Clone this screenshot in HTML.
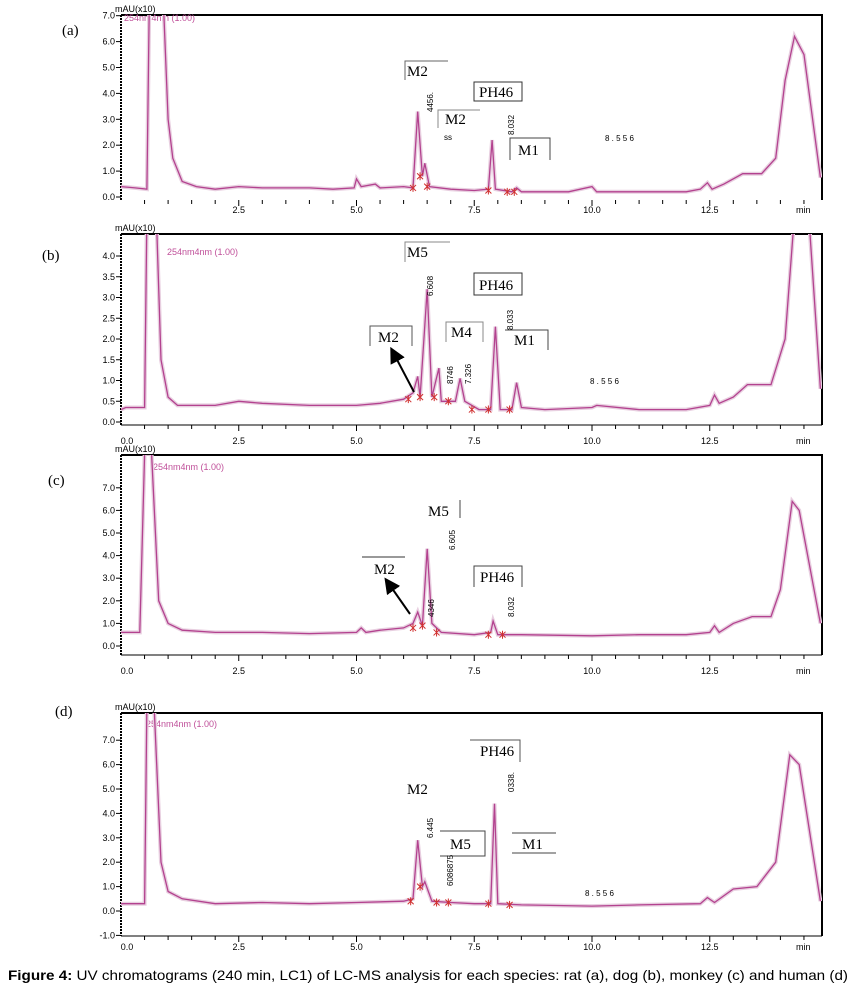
<!DOCTYPE html>
<html><head><meta charset="utf-8">
<style>
html,body{margin:0;padding:0;background:#fff;}
svg{display:block;}
.ser{font-family:"Liberation Serif",serif;font-size:15px;fill:#000;}
.tk{font-family:"Liberation Sans",sans-serif;font-size:9px;fill:#000;}
.pk{font-family:"Liberation Sans",sans-serif;font-size:8px;fill:#000;}
.pink{font-family:"Liberation Sans",sans-serif;font-size:9px;fill:#c0509a;}
</style></head>
<body>
<svg id="fig" width="852" height="991" viewBox="0 0 852 991" xmlns="http://www.w3.org/2000/svg">
<defs>
<marker id="ah" markerWidth="8" markerHeight="8" refX="4" refY="4" orient="auto"><path d="M0,0 L8,4 L0,8 z" fill="#000"/></marker>
</defs>
<g id="panels"></g>
<!-- annotations -->
<g>
<text class="ser" x="62" y="35" font-size="17">(a)</text>
<path d="M405,80 V61 H448" fill="none" stroke="#666" stroke-width="1"/><text class="ser" x="407" y="76">M2</text>
<rect x="474" y="82" width="48" height="19" fill="none" stroke="#333" stroke-width="1"/><text class="ser" x="479" y="97">PH46</text>
<path d="M438,128 V110 H480" fill="none" stroke="#888" stroke-width="1"/><text class="ser" x="445" y="124">M2</text>
<path d="M510,160 V138 H550 V160" fill="none" stroke="#444" stroke-width="1"/><text class="ser" x="518" y="155">M1</text>
<text class="pk" transform="translate(433,112) rotate(-90)">4456.</text>
<text class="pk" x="444" y="140">ss</text>
<text class="pk" transform="translate(514,135) rotate(-90)">8.032</text>
<text class="pk" x="605" y="141">8 . 5 5 6</text>
</g>
<g>
<text class="ser" x="42" y="260" font-size="17">(b)</text>
<path d="M405,262 V242 H450" fill="none" stroke="#888" stroke-width="1"/><text class="ser" x="407" y="257">M5</text>
<rect x="474" y="273" width="48" height="22" fill="none" stroke="#333" stroke-width="1"/><text class="ser" x="479" y="290">PH46</text>
<path d="M370,346 V326 H412 V346" fill="none" stroke="#555" stroke-width="1"/><text class="ser" x="378" y="342">M2</text>
<path d="M446,342 V322 H483 V342" fill="none" stroke="#888" stroke-width="1"/><text class="ser" x="451" y="337">M4</text>
<path d="M505,330 H548 V350" fill="none" stroke="#444" stroke-width="1"/><text class="ser" x="514" y="345">M1</text>
<line x1="414" y1="392" x2="394" y2="354" stroke="#000" stroke-width="2" marker-end="url(#ah)"/>
<text class="pk" transform="translate(433,296) rotate(-90)">6.608</text>
<text class="pk" transform="translate(453,384) rotate(-90)">8746</text>
<text class="pk" transform="translate(471,384) rotate(-90)">7.326</text>
<text class="pk" transform="translate(513,330) rotate(-90)">8.033</text>
<text class="pk" x="590" y="384">8  . 5 5 6</text>
</g>
<g>
<text class="ser" x="48" y="485" font-size="17">(c)</text>
<text class="ser" x="428" y="516">M5</text><line x1="460" y1="500" x2="460" y2="518" stroke="#444"/>
<line x1="362" y1="557" x2="405" y2="557" stroke="#999" stroke-width="2"/><text class="ser" x="374" y="574">M2</text>
<path d="M474,587 V566 H522 V587" fill="none" stroke="#444" stroke-width="1"/><text class="ser" x="480" y="582">PH46</text>
<line x1="410" y1="614" x2="389" y2="584" stroke="#000" stroke-width="2" marker-end="url(#ah)"/>
<text class="pk" transform="translate(455,550) rotate(-90)">6.605</text>
<text class="pk" transform="translate(434,617) rotate(-90)">4346</text>
<text class="pk" transform="translate(514,617) rotate(-90)">8.032</text>
</g>
<g>
<text class="ser" x="55" y="716" font-size="17">(d)</text>
<path d="M470,740 H520 V762" fill="none" stroke="#555" stroke-width="1"/><text class="ser" x="480" y="756">PH46</text>
<text class="ser" x="407" y="794">M2</text>
<path d="M440,831 H485 V856 H440" fill="none" stroke="#444" stroke-width="1"/><text class="ser" x="450" y="849">M5</text>
<path d="M512,833 H556 M512,853 H556" fill="none" stroke="#444" stroke-width="1"/><text class="ser" x="522" y="849">M1</text>
<text class="pk" transform="translate(514,792) rotate(-90)">0338.</text>
<text class="pk" transform="translate(433,838) rotate(-90)">6.445</text>
<text class="pk" transform="translate(453,886) rotate(-90)">6086875</text>
<text class="pk" x="585" y="896">8  . 5 5 6</text>
</g>
<text x="8" y="980" font-family="Liberation Sans, sans-serif" font-size="14" textLength="840" lengthAdjust="spacingAndGlyphs"><tspan font-weight="bold">Figure 4:</tspan> UV chromatograms (240 min, LC1) of LC-MS analysis for each species: rat (a), dog (b), monkey (c) and human (d)</text>
</svg>
<script>
// ---- data (time in min, absorbance mAU x10) ----
const timesA  = [0,0.3,0.55,0.6,0.9,1.0,1.1,1.3,1.6,2.0,2.5,3.0,4.0,4.5,4.95,5.0,5.1,5.4,5.5,6.0,6.2,6.3,6.4,6.45,6.55,7.0,7.5,7.8,7.88,7.95,8.3,8.4,8.5,9.5,10.0,10.1,11.0,12.0,12.3,12.45,12.55,12.8,13.2,13.6,13.9,14.1,14.3,14.5,14.85];
const valuesA = [0.4,0.35,0.3,7.5,7.5,3.0,1.5,0.6,0.4,0.3,0.4,0.35,0.35,0.3,0.35,0.7,0.4,0.5,0.35,0.4,0.35,3.3,0.8,1.3,0.4,0.3,0.25,0.3,2.2,0.3,0.2,0.35,0.2,0.2,0.4,0.2,0.2,0.2,0.3,0.55,0.3,0.5,0.9,0.9,1.5,4.5,6.2,5.5,0.75];
const timesB  = [0,0.1,0.5,0.55,0.75,0.85,1.0,1.2,2.0,2.5,3.0,4.0,5.0,5.5,6.0,6.2,6.3,6.35,6.5,6.6,6.75,6.8,7.1,7.2,7.3,7.6,7.85,7.95,8.05,8.3,8.4,8.5,9.0,10.0,10.1,11.0,12.0,12.5,12.6,12.7,13.0,13.3,13.8,14.1,14.3,14.6,14.85];
const valuesB = [0.3,0.35,0.35,5,5,1.5,0.6,0.4,0.4,0.5,0.45,0.4,0.4,0.45,0.55,0.7,1.1,0.6,3.2,0.6,1.3,0.5,0.5,1.05,0.5,0.3,0.3,2.3,0.3,0.3,0.95,0.35,0.3,0.35,0.4,0.3,0.3,0.4,0.65,0.45,0.6,0.9,0.9,2.0,5.0,5.0,0.8];
const timesC  = [0,0.4,0.5,0.65,0.8,1.0,1.3,2.0,3.0,4.0,5.0,5.1,5.2,5.5,6.0,6.2,6.3,6.4,6.5,6.6,6.8,7.5,7.85,7.9,8.0,8.5,10.0,11.0,12.0,12.5,12.6,12.7,13.0,13.4,13.8,14.0,14.25,14.4,14.85];
const valuesC = [0.6,0.6,8.5,8.5,2.0,1.0,0.7,0.6,0.6,0.55,0.6,0.8,0.6,0.7,0.8,1.0,1.5,0.9,4.3,1.0,0.6,0.5,0.6,1.1,0.5,0.5,0.45,0.5,0.5,0.6,0.9,0.6,1.0,1.3,1.3,2.5,6.4,6.0,1.0];
const timesD  = [0,0.5,0.55,0.7,0.85,1.0,1.3,2.0,3.0,4.0,5.0,6.0,6.2,6.3,6.4,6.45,6.6,7.0,7.5,7.85,7.93,8.0,8.5,10.0,11.0,12.3,12.45,12.6,13.0,13.5,13.9,14.2,14.4,14.85];
const valuesD = [0.3,0.3,8.5,8.5,2.0,0.8,0.5,0.3,0.35,0.3,0.35,0.4,0.5,2.9,1.0,1.2,0.4,0.35,0.3,0.3,4.4,0.3,0.25,0.2,0.25,0.3,0.55,0.35,0.9,1.0,2.0,6.4,6.0,0.4];
const marksA = [6.2,6.35,6.5,7.8,8.2,8.35];
const marksB = [6.1,6.35,6.65,6.95,7.45,7.8,8.25];
const marksC = [6.2,6.4,6.7,7.8,8.1];
const marksD = [6.15,6.35,6.7,6.95,7.8,8.25];
const tickLabelsX = ["0.0","2.5","5.0","7.5","10.0","12.5"];
const tickValuesX = [0,2.5,5,7.5,10,12.5];
const yTicksA = [0,1,2,3,4,5,6,7];
const yTicksB = [0,0.5,1,1.5,2,2.5,3,3.5,4];
const yTicksC = [0,1,2,3,4,5,6,7];
const yTicksD = [-1,0,1,2,3,4,5,6,7];

const NS = "http://www.w3.org/2000/svg";
const root = document.getElementById('panels');
function mk(tag, attrs, parent){ const e=document.createElementNS(NS,tag); for(const k in attrs) e.setAttribute(k,attrs[k]); (parent||root).appendChild(e); return e; }
const X0=121, PXMIN=47.1, XR=822;
function xs(t){ return X0 + t*PXMIN; }

const panels = [
 {id:'a', top:15, bottom:200, y0:197, k:25.9, times:timesA, vals:valuesA, ticks:yTicksA, marks:marksA, lblY:213, zero:false, axisLine:false},
 {id:'b', top:234, bottom:425, y0:422, k:41.5, times:timesB, vals:valuesB, ticks:yTicksB, marks:marksB, lblY:444, zero:true, axisLine:true},
 {id:'c', top:455, bottom:655, y0:646, k:22.6, times:timesC, vals:valuesC, ticks:yTicksC, marks:marksC, lblY:674, zero:true, axisLine:true},
 {id:'d', top:713, bottom:936, y0:911, k:24.4, times:timesD, vals:valuesD, ticks:yTicksD, marks:marksD, lblY:950, zero:true, axisLine:true}
];

panels.forEach(p=>{
  const g = mk('g',{});
  
  
  const ys = v => p.y0 - v*p.k;
  const cp = mk('clipPath',{id:'clip'+p.id}, g);
  mk('rect',{x:X0,y:p.top,width:XR-X0,height:p.bottom-p.top},cp);
  // frame
  const fr = mk('path',{d:`M${X0},${p.top} H${XR} V${p.bottom}`,fill:'none',stroke:'#000','stroke-width':2},g);
  
  
  const ya = mk('line',{x1:X0,y1:p.top,x2:X0,y2:p.bottom,stroke:'#000','stroke-width':2,'stroke-dasharray':'2,1'},g);
  
  
  if(p.axisLine){ const xa=mk('line',{x1:X0,y1:p.bottom,x2:XR,y2:p.bottom,stroke:'#000','stroke-width':1},g);
    
     }
  // y ticks
  p.ticks.forEach(v=>{
    const y=ys(v);
    mk('line',{x1:X0-5,y1:y,x2:X0,y2:y,stroke:'#000','stroke-width':1},g);
    const t=mk('text',{x:X0-6,y:y+3,'text-anchor':'end',class:'tk'},g);
    t.textContent=v.toFixed(1);
    
    
  });
  // x minor ticks
  for(let i=1;i<=29;i++){ const x=xs(i*0.5); const big=(i%5===0); mk('line',{x1:x,y1:p.bottom,x2:x,y2:p.bottom+(big?6:4),stroke:'#000','stroke-width':1},g); }
  tickLabelsX.forEach((s,i)=>{
    if(i===0 && !p.zero) return;
    const t=mk('text',{x:xs(tickValuesX[i])+(i===0?6:0),y:p.lblY,'text-anchor':'middle',class:'tk'},g);
    t.textContent=s;
    
    
  });
  const mn=mk('text',{x:796,y:p.lblY,class:'tk'},g); mn.textContent='min';
  
  
  const un=mk('text',{x:X0-6,y:p.top-3,class:'tk'},g); un.textContent='mAU(x10)';
  
  
  const wl=mk('text',{x:p.id==='b'?167:(p.id==='c'?153:(p.id==='d'?146:124)),y:p.id==='b'?255:(p.id==='c'?470:(p.id==='d'?727:21)),class:'pink'},g);
  wl.textContent='254nm4nm (1.00)';
  
  
  // trace
  let d='';
  p.times.forEach((t,i)=>{ d+=(i?'L':'M')+xs(t).toFixed(1)+','+ys(p.vals[i]).toFixed(1); });
  const halo=mk('path',{d:d,fill:'none',stroke:'#e8cfe0','stroke-width':4,'clip-path':`url(#clip${p.id})`},g);
  
  
  const line=mk('path',{d:d,fill:'none',stroke:'#b3428f','stroke-width':1.3,'clip-path':`url(#clip${p.id})`},g);
  
  
  // integration marks
  p.marks.forEach(t=>{
    // baseline value by interpolation of data
    let v=p.vals[0];
    for(let i=1;i<p.times.length;i++){ if(p.times[i]>=t){ const f=(t-p.times[i-1])/(p.times[i]-p.times[i-1]); v=Math.min(p.vals[i-1],p.vals[i]) + 0*f; break; } }
    const x=xs(t), y=ys(v);
    const m=mk('path',{d:`M${x-3},${y-3}L${x+3},${y+3}M${x+3},${y-3}L${x-3},${y+3}M${x},${y-4}V${y+4}`,stroke:'#d03030','stroke-width':1},g);
    
    
  });
});
</script>
</body></html>
